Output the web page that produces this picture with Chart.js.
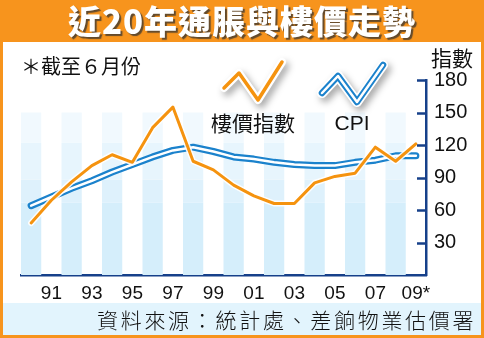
<!DOCTYPE html>
<html>
<head>
<meta charset="utf-8">
<script src="https://cdn.jsdelivr.net/npm/chart.js@4.4.1/dist/chart.umd.min.js"></script>
<style>
  html, body { margin: 0; padding: 0; }
  body {
    width: 484px; height: 338px; position: relative; overflow: hidden;
    background: #f7941d; font-family: "Noto Sans CJK TC", sans-serif;
  }
  #title {
    position: absolute; left: 0; top: 0; width: 484px; height: 42px;
    line-height: 40px; text-align: center; color: #fff;
    font-size: 33px; font-weight: 900; letter-spacing: 1px;
    text-shadow: 2px 2px 1px rgba(50, 50, 50, 0.75); z-index: 3;
  }
  #panel { position: absolute; left: 3px; top: 42px; width: 478px; height: 293px; background: #fff; }
  #sourceBar { position: absolute; left: 3px; top: 303px; width: 478px; height: 32px; background: #e2f4fd; }
  #chart { position: absolute; left: 0; top: 0; z-index: 2; }
  .note { position: absolute; z-index: 3; color: #111; white-space: nowrap; }
  #asOf { left: 21px; top: 52px; font-size: 20px; line-height: 28px; }
  #unit { left: 431px; top: 43px; font-size: 21px; line-height: 28px; }
  #source { left: 97px; top: 304px; font-size: 21px; letter-spacing: 2.7px; line-height: 30px; font-weight: 300; }
</style>
</head>
<body>
<div id="title">近20年通脹與樓價走勢</div>
<div id="panel"></div>
<div id="sourceBar"></div>
<canvas id="chart" width="484" height="338"></canvas>
<div class="note" id="asOf">＊截至６月份</div>
<div class="note" id="unit">指數</div>
<div class="note" id="source">資料來源：統計處、差餉物業估價署</div>

<script>
// ---------- Data ----------
const yearLabels = ['90', '91', '92', '93', '94', '95', '96', '97', '98', '99',
                    '00', '01', '02', '03', '04', '05', '06', '07', '08', '09*'];
const propertyIndex = [48, 69, 86, 101, 111, 104, 136, 155, 105, 97,
                       83, 73, 66, 66, 85, 91, 94, 118, 105, 121];
const cpi = [64, 72, 80, 87, 95, 102, 109, 115, 118, 114,
             109, 107, 104, 102, 101, 101, 104, 106, 110, 110];
const yTicks = [30, 60, 90, 120, 150, 180];

const NAVY = '#16408a';
const ORANGE = '#f5930f';
const BLUE = '#1b82cc';

// background stripes behind even years, shaded by value band
const stripeBands = [
  { from: 0, to: 67, color: '#d5eefb' },
  { from: 67, to: 88, color: '#def1fc' },
  { from: 88, to: 122, color: '#e7f5fd' },
  { from: 122, to: 150, color: '#f1f9fe' }
];

const stripesPlugin = {
  id: 'stripes',
  beforeDatasetsDraw(chart) {
    const { ctx, scales: { x, y } } = chart;
    const w = x.width / yearLabels.length;
    ctx.save();
    yearLabels.forEach((lbl, i) => {
      if (i % 2) return;
      const cx = x.getPixelForValue(i);
      stripeBands.forEach(b => {
        const top = y.getPixelForValue(b.to);
        const bot = y.getPixelForValue(b.from);
        ctx.fillStyle = b.color;
        ctx.fillRect(cx - w / 2, top, w, bot - top);
      });
    });
    ctx.restore();
  }
};

// tick marks point into the plot from the right-hand axis
const innerTicksPlugin = {
  id: 'innerTicks',
  afterDraw(chart) {
    const { ctx, chartArea, scales: { y } } = chart;
    ctx.save();
    ctx.strokeStyle = NAVY;
    ctx.lineWidth = 2.5;
    yTicks.forEach(v => {
      const py = Math.round(y.getPixelForValue(v)) + 0.5;
      ctx.beginPath();
      ctx.moveTo(chartArea.right - 9, py);
      ctx.lineTo(chartArea.right, py);
      ctx.stroke();
    });
    ctx.restore();
  }
};

// zigzag legend icons with a soft drop shadow
function zigzag(ctx, pts) {
  ctx.beginPath();
  pts.forEach((p, i) => i ? ctx.lineTo(p[0], p[1]) : ctx.moveTo(p[0], p[1]));
  ctx.stroke();
}

const legendPlugin = {
  id: 'zigLegend',
  afterDraw(chart) {
    const ctx = chart.ctx;
    const orangePts = [[224, 88], [239, 73], [258, 100], [282, 62]];
    const bluePts = [[322, 93], [338, 76], [357, 102], [383, 65]];
    ctx.save();
    ctx.lineCap = 'round';
    ctx.lineJoin = 'round';

    ctx.shadowColor = 'rgba(0,0,0,0.35)';
    ctx.shadowBlur = 7;
    ctx.shadowOffsetX = 3;
    ctx.shadowOffsetY = 4;
    ctx.strokeStyle = '#fff';
    ctx.lineWidth = 8;
    zigzag(ctx, orangePts);
    ctx.lineWidth = 10;
    zigzag(ctx, bluePts);

    ctx.shadowColor = 'transparent';
    ctx.strokeStyle = ORANGE;
    ctx.lineWidth = 3.5;
    zigzag(ctx, orangePts);
    ctx.strokeStyle = BLUE;
    ctx.lineWidth = 6.5;
    zigzag(ctx, bluePts);
    ctx.strokeStyle = '#fff';
    ctx.lineWidth = 2.5;
    zigzag(ctx, bluePts);

    ctx.fillStyle = '#111';
    ctx.textAlign = 'center';
    ctx.textBaseline = 'middle';
    ctx.font = '21px "Noto Sans CJK TC"';
    ctx.fillText('樓價指數', 253, 123);
    ctx.font = '21px "Liberation Sans"';
    ctx.fillText('CPI', 352, 124);
    ctx.restore();
  }
};

// ---------- Chart ----------
new Chart(document.getElementById('chart'), {
  type: 'line',
  data: {
    labels: yearLabels,
    datasets: [
      { data: propertyIndex, borderColor: ORANGE, borderWidth: 3, order: 0 },
      { data: propertyIndex, borderColor: 'rgba(255,255,255,0.9)', borderWidth: 6, order: 1 },
      { data: cpi, borderColor: '#fff', borderWidth: 2.5, order: 2 },
      { data: cpi, borderColor: BLUE, borderWidth: 7, order: 3 }
    ]
  },
  options: {
    responsive: false,
    animation: false,
    events: [],
    elements: {
      point: { radius: 0 },
      line: { tension: 0, fill: false, borderCapStyle: 'round', borderJoinStyle: 'round' }
    },
    layout: { padding: { left: 21, top: 80, right: 0, bottom: 0 } },
    plugins: { legend: { display: false }, tooltip: { enabled: false } },
    scales: {
      x: {
        offset: true,
        grid: { display: false, drawTicks: false },
        border: { color: NAVY, width: 2.5 },
        ticks: {
          autoSkip: false, maxRotation: 0, padding: 7,
          color: '#111', font: { family: '"Liberation Sans"', size: 19 },
          callback: (v, i) => (i % 2 ? yearLabels[i] : '')
        },
        afterFit: s => { s.height = 63; }
      },
      y: {
        position: 'right',
        min: 0, max: 180,
        grid: { display: false, drawTicks: false },
        border: { color: NAVY, width: 2.5 },
        ticks: {
          stepSize: 30, padding: 8,
          color: '#111', font: { family: '"Liberation Sans"', size: 20 },
          callback: v => (yTicks.includes(v) ? v : '')
        },
        afterFit: s => { s.width = 58; }
      }
    }
  },
  plugins: [stripesPlugin, innerTicksPlugin, legendPlugin]
});
</script>
</body>
</html>
